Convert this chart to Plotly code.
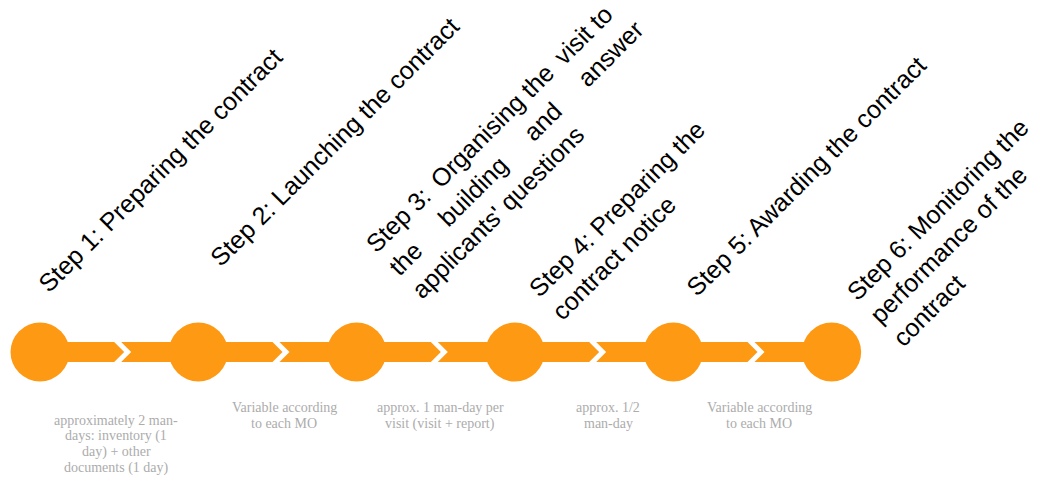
import plotly.graph_objects as go

# ---------------- data ----------------
step_index = [0, 1, 2, 3, 4, 5]
step_titles = [
    "Step 1: Preparing the contract",
    "Step 2: Launching the contract",
    "Step 3:\u2009 Organising the\u2009 visit to\nthe\u00a0\u00a0\u00a0\u00a0\u00a0building\u00a0\u00a0\u00a0\u00a0\u00a0and\u00a0\u00a0\u00a0\u00a0\u00a0answer\napplicants' questions",
    "Step 4: Preparing the\ncontract notice",
    "Step 5: Awarding the contract",
    "Step 6: Monitoring the\nperformance of the\ncontract",
]
effort_labels = [
    "approximately 2 man-\ndays: inventory (1\nday) + other\ndocuments (1 day)",
    "Variable according\nto each MO",
    "approx. 1 man-day per\nvisit (visit + report)",
    "approx. 1/2\nman-day",
    "Variable according\nto each MO",
]

# ---------------- layout constants ----------------
W, H = 1037, 480
X0_PX, STEP_PX, Y0_PX = 40.0, 158.33, 352.0
ORANGE = "#FE9914"
GREY = "#ACACAC"

def xd(px):
    return (px - X0_PX) / STEP_PX

def yd(py):
    return Y0_PX - py

title_pos_px = [(160, 170), (334, 142), (515, 148), (628, 220), (806, 176), (960, 232)]
effort_pos_px = [(116, 420), (284, 407.5), (440, 407.5), (608, 407.5), (759, 407.5)]
EFFORT_LINE_PX = 16
BAR_HALF = 10

fig = go.Figure()

# chevron bar pieces between consecutive steps
shapes = []
for a, b in zip(step_index[:-1], step_index[1:]):
    mid = (a + b) / 2
    c = mid - 5 / STEP_PX       # right corner of first piece
    tip = mid + 5 / STEP_PX
    s2 = mid + 2 / STEP_PX
    notch = mid + 12 / STEP_PX
    h = BAR_HALF
    p1 = f"M {a} {h} L {c} {h} L {tip} 0 L {c} {-h} L {a} {-h} Z"
    p2 = f"M {s2} {h} L {b} {h} L {b} {-h} L {s2} {-h} L {notch} 0 Z"
    for p in (p1, p2):
        shapes.append(dict(type="path", path=p, xref="x", yref="y",
                           fillcolor=ORANGE, line=dict(width=0), layer="below"))

fig.add_trace(go.Scatter(
    x=step_index, y=[0] * len(step_index), mode="markers",
    marker=dict(size=59, color=ORANGE, line=dict(width=0)),
    hoverinfo="skip", showlegend=False,
))

annotations = []
for t, (px, py) in zip(step_titles, title_pos_px):
    annotations.append(dict(
        text=t.replace("\n", "<br>"), x=xd(px), y=yd(py), xref="x", yref="y",
        showarrow=False, textangle=-45, align="left",
        xanchor="center", yanchor="middle",
        font=dict(family="Liberation Sans, Arial, sans-serif", size=25, color="#000000"),
    ))

for t, (px, py) in zip(effort_labels, effort_pos_px):
    for k, line in enumerate(t.split("\n")):
        annotations.append(dict(
            text=line, x=xd(px), y=yd(py + k * EFFORT_LINE_PX), xref="x", yref="y",
            showarrow=False, xanchor="center", yanchor="middle",
            font=dict(family="Liberation Serif, Times New Roman, serif", size=14, color=GREY),
        ))

fig.update_layout(
    width=W, height=H,
    margin=dict(l=0, r=0, t=0, b=0),
    paper_bgcolor="white", plot_bgcolor="white",
    xaxis=dict(range=[xd(0), xd(W)], visible=False, fixedrange=True),
    yaxis=dict(range=[yd(H), yd(0)], visible=False, fixedrange=True),
    shapes=shapes, annotations=annotations, showlegend=False,
)

fig.write_html(
    "out.html",
    config={"displayModeBar": False},
    post_script="document.body.style.margin='0';document.body.style.overflow='hidden';",
)
